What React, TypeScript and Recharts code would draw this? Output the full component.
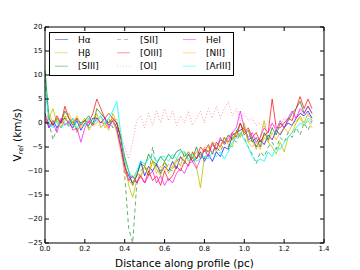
import { LineChart, Line, XAxis, YAxis } from "recharts";

// distance along profile (pc)
const XS = [
  0, 0.02, 0.04, 0.06, 0.08, 0.1, 0.12, 0.14, 0.16, 0.18,
  0.2, 0.22, 0.24, 0.26, 0.28, 0.3, 0.32, 0.34, 0.36, 0.38,
  0.4, 0.42, 0.44, 0.46, 0.48, 0.5, 0.52, 0.54, 0.56, 0.58,
  0.6, 0.62, 0.64, 0.66, 0.68, 0.7, 0.72, 0.74, 0.76, 0.78,
  0.8, 0.82, 0.84, 0.86, 0.88, 0.9, 0.92, 0.94, 0.96, 0.98,
  1.0, 1.02, 1.04, 1.06, 1.08, 1.1, 1.12, 1.14, 1.16, 1.18,
  1.2, 1.22, 1.24, 1.26, 1.28, 1.3, 1.32, 1.34,
];

const HA = [
  2, -1, 0.5, -1, 0.5, 1, 0, -1, 0.5, -1.5,
  0, -0.5, 1, 1, 0, 1, -0.5, 0.5, -1, -5,
  -9, -11, -12.5, -11, -8, -11, -9, -10, -8.5, -10.5,
  -9, -10, -8, -9.5, -7, -8, -6.5, -8, -7.5, -6,
  -8, -6.5, -8, -6, -7, -5, -5.5, -2.5, -2, -1.5,
  -1, -3.5, -3, -5, -3.5, -4.5, -2.5, -3.5, -1.5, -2.5,
  -1, 0, -0.5, 1, 2, 1.5, 2.5, 1,
];
const HB = [
  0, 1, 3, 0, -1, 1.5, -0.5, 1, -2, 0,
  1, -1.5, 0, 2, -1, 0, -1.5, 2, 0, -3,
  -8, -13, -15.5, -12, -11, -9, -11, -8, -9.5, -11,
  -8, -10.5, -9, -7.5, -9, -6, -8, -7, -9, -13.5,
  -7, -6.5, -4, -6, -5, -3, -4.5, -5, -1.5, -3,
  0, -4, -3.5, -5.5, -3, 0.5, -4, -5, -6.5, -4,
  -6, -3, -2, 0, 1.5, 0, 2, 0.5,
];
const SIII = [
  11, 1, -0.5, 1, 0, 2.5, 1, -0.5, 1, 0,
  0.5, 1.5, -0.5, 3, 2, 1, 0, 1, 0, -3,
  -7, -10, -13, -11, -8.5, -9, -6.5, -8, -8.5, -7,
  -8, -6.5, -7.5, -6, -5.5, -7, -6, -7.5, -5, -7.5,
  -5.5, -6, -4.5, -5.5, -3.5, -4, -2.5, -3.5, -2, 0,
  -2.5, -1.5, -4, -3, -5, -2, -3.5, -1, -2.5, 0,
  -1, 0.5, 2, 3, 4.5, 2, 3.5, 2,
];
const SII = [
  9, 0, -3.5, -1, 0, 1, -1, 0.5, -1.5, 0,
  0.5, -1, 0, 1, 0.5, -0.5, 1, -1, 0, -4,
  -11, -22, -25, -13, -10, -9, -11, -5, -9, -10,
  -8, -9.5, -10, -8, -7, -8.5, -6.5, -8, -7, -6.5,
  -7.5, -5, -6, -5, -6, -4, -5, -3, -4, -2,
  -3, -5, -6.5, -8.5, -6, -7, -5, -4, -5.5, -3,
  -4, -2, -3, -1, -2.5, 0, -1.5, 0.5,
];
const OIII = [
  0, 1, -0.5, 1.5, 0, 3.5, 1, 0, 1, -0.5,
  0.5, 0, 2, 5, 3, 1, 2, 1, 0, -3,
  -9, -12, -11, -12.5, -11, -12.5, -10, -12, -11, -13,
  -10, -12, -11, -9, -10, -8, -9, -6, -7.5, -5,
  -6, -4.5, -6.5, -4, -5, -3, -4, -2, -3, 0,
  -2, -1, -3, -2, -4, -2.5, -2, 5, -1, -1,
  0, 1, 0.5, 3, 5.5, 3, 5, 3,
];
const OI = [
  null, null, null, null, null, null, null, null, null, null,
  null, null, null, null, null, -1, 0.5, -0.5, 1, -2,
  -5, -7.5, -4, 0.5, 1.5, -1, 2, -0.5, 2.5, 0,
  3, 0.5, 2.5, -0.5, 1.5, 0, 2.5, -0.5, 1, 2.5,
  0, 3, 1, 3.5, 1, 3, 4.5, 1.5, 3, 0.5,
  2, 0.5, 1, -0.5, 0, -1, 0.5, -1, 0, -0.5,
  1, 0.5, 1.5, 1, 2.5, 1, 1.5, 0.5,
];
const HEI = [
  1, -1, 0, -2, 1, -0.5, 0.5, -1.5, -1, -4,
  -1, 0.5, -0.5, 1, 0, 1, -1, 0.5, -1.5, -5,
  -10, -12, -11, -12.5, -11, -12.5, -11, -10, -12.5, -11,
  -13, -11.5, -12.5, -10.5, -9.5, -10.5, -8.5, -8, -9.5, -7.5,
  -5.5, -7, -4, -5.5, -3, -4.5, -3, -2, -1, 2.5,
  -1, -3, -2, -4, -3, -1, -2, 0, -1.5, 0.5,
  -1, 1, 2.5, 1, 3, 2, 3.5, 2,
];
const NII = [
  0, 2, 0, 1, -1, 0.5, 2, 0, 1.5, -1,
  0, 1, -0.5, 0, 1.5, -1, 0, 1, -2, -6,
  -10, -12, -13, -10, -11.5, -9, -10, -8, -10.5, -9,
  -10, -8.5, -9.5, -8, -7, -8, -6, -7.5, -6, -7,
  -5, -6, -4, -4.5, -5, -3, -4, -3.5, -2, -2.5,
  -1, -4, -5, -4, -5.5, -3, -4, -2, -3.5, -2,
  -1, -2, -0.5, 0.5, 1, -0.5, 0.5, -1,
];
const ARIII = [
  8, 0, -1, 0.5, -1, 0, -0.5, 1, -1, 0,
  -0.5, 1, 0, 0.5, 1.5, 0, 1, 2.5, 4.5, -2,
  -8, -10, -11.5, -10, -8, -8.5, -7.5, -6.5, -8, -7,
  -7, -8, -6.5, -7.5, -6, -6, -7.5, -6.5, -8, -7.5,
  -7, -7.5, -6, -7, -6, -7.5, -6, -4, -3, -2,
  -3.5, -5, -7, -8, -7.5, -8, -6, -7, -5, -5.5,
  -4, -3, -2, -1, 0, -0.5, 1, 0,
];

const X_TICKS = [0, 0.2, 0.4, 0.6, 0.8, 1.0, 1.2, 1.4];
const Y_TICKS = [-25, -20, -15, -10, -5, 0, 5, 10, 15, 20];

const SERIES = [
  { key: "ha", name: "Hα", values: HA, color: "#0000ff", opacity: 0.7 },
  { key: "hb", name: "Hβ", values: HB, color: "#bfbf00", opacity: 0.8 },
  { key: "siii", name: "[SIII]", values: SIII, color: "#008000", opacity: 0.7 },
  { key: "sii", name: "[SII]", values: SII, color: "#008000", opacity: 0.6, dash: "4 3" },
  { key: "oiii", name: "[OIII]", values: OIII, color: "#ff0000", opacity: 0.7 },
  { key: "oi", name: "[OI]", values: OI, color: "#ff0000", opacity: 0.4, dash: "1 2" },
  { key: "hei", name: "HeI", values: HEI, color: "#ff00ff", opacity: 0.7 },
  { key: "nii", name: "[NII]", values: NII, color: "#ffa500", opacity: 0.7 },
  { key: "ariii", name: "[ArIII]", values: ARIII, color: "#00ffff", opacity: 0.8 },
];

const rows = XS.map((x, i) => {
  const row: Record<string, number | null> = { x };
  SERIES.forEach((s) => (row[s.key] = s.values[i]));
  return row;
});

const FONT = "DejaVu Sans, sans-serif";
const minus = (v: number) => (v < 0 ? "\u2212" + Math.abs(v) : String(v));
const noTick = () => <g />;

function XLabel({ viewBox }: any) {
  const cx = viewBox.x + viewBox.width / 2;
  return (
    <text x={cx} y={viewBox.y + 23.5} textAnchor="middle" fontSize={10.5} fontFamily={FONT} fill="#000">
      Distance along profile (pc)
    </text>
  );
}

function YLabel({ viewBox }: any) {
  const cy = viewBox.y + viewBox.height / 2;
  const cx = 21;
  return (
    <text
      x={cx}
      y={cy}
      textAnchor="middle"
      fontSize={10.5}
      fontFamily={FONT}
      fill="#000"
      transform={`rotate(-90 ${cx} ${cy})`}
    >
      V
      <tspan fontSize={7} fontStyle="italic" dy={2}>rel</tspan>
      <tspan dy={-2}> (km/s)</tspan>
    </text>
  );
}

function LegendBox() {
  const colX = [6, 68, 134];
  const rowY = [7, 20.3, 33.7];
  return (
    <svg width={185} height={44} style={{ position: "absolute", left: 49, top: 31.5 }}>
      <rect x={0.5} y={0.5} width={184} height={43} fill="#fff" stroke="#000" strokeWidth={1} />
      {SERIES.map((s, i) => {
        const cx = colX[Math.floor(i / 3)];
        const cy = rowY[i % 3] + 0.5;
        return (
          <g key={s.key}>
            <line
              x1={cx}
              x2={cx + 13}
              y1={cy}
              y2={cy}
              stroke={s.color}
              strokeOpacity={s.opacity * 0.6}
              strokeWidth={1}
              strokeDasharray={s.dash}
            />
            <text x={cx + 23} y={cy + 3.2} fontSize={9} fontFamily={FONT} fill="#000">
              {s.name}
            </text>
          </g>
        );
      })}
    </svg>
  );
}

export default function App() {
  return (
    <div style={{ position: "fixed", left: 0, top: 0, width: 360, height: 270, background: "#fff" }}>
      <LineChart width={360} height={270} data={rows} margin={{ top: 0, right: 0, bottom: 0, left: 0 }}>
        <XAxis
          xAxisId="b"
          dataKey="x"
          type="number"
          domain={[0, 1.4]}
          ticks={X_TICKS}
          interval={0}
          height={27}
          tickSize={-4}
          tickMargin={7}
          stroke="#000"
          tick={{ fontSize: 7, fill: "#000", fontFamily: FONT }}
          tickFormatter={(v) => Number(v).toFixed(1)}
          label={<XLabel />}
        />
        <XAxis
          xAxisId="t"
          orientation="top"
          dataKey="x"
          type="number"
          domain={[0, 1.4]}
          ticks={X_TICKS}
          interval={0}
          height={27}
          tickSize={-4}
          stroke="#000"
          tick={noTick}
        />
        <YAxis
          yAxisId="l"
          type="number"
          domain={[-25, 20]}
          ticks={Y_TICKS}
          interval={0}
          width={45}
          tickSize={-4}
          tickMargin={6.5}
          stroke="#000"
          tick={{ fontSize: 7, fill: "#000", fontFamily: FONT }}
          tickFormatter={(v) => minus(Number(v))}
          label={<YLabel />}
        />
        <YAxis
          yAxisId="r"
          orientation="right"
          type="number"
          domain={[-25, 20]}
          ticks={Y_TICKS}
          interval={0}
          width={36}
          tickSize={-4}
          stroke="#000"
          tick={noTick}
        />
        {SERIES.map((s) => (
          <Line
            key={s.key}
            xAxisId="b"
            yAxisId="l"
            dataKey={s.key}
            name={s.name}
            type="linear"
            stroke={s.color}
            strokeOpacity={s.opacity}
            strokeWidth={1}
            strokeDasharray={s.dash}
            dot={false}
            isAnimationActive={false}
          />
        ))}
        <Line
          xAxisId="t"
          yAxisId="r"
          dataKey="ha"
          stroke="none"
          dot={false}
          legendType="none"
          isAnimationActive={false}
        />
      </LineChart>
      <LegendBox />
    </div>
  );
}
